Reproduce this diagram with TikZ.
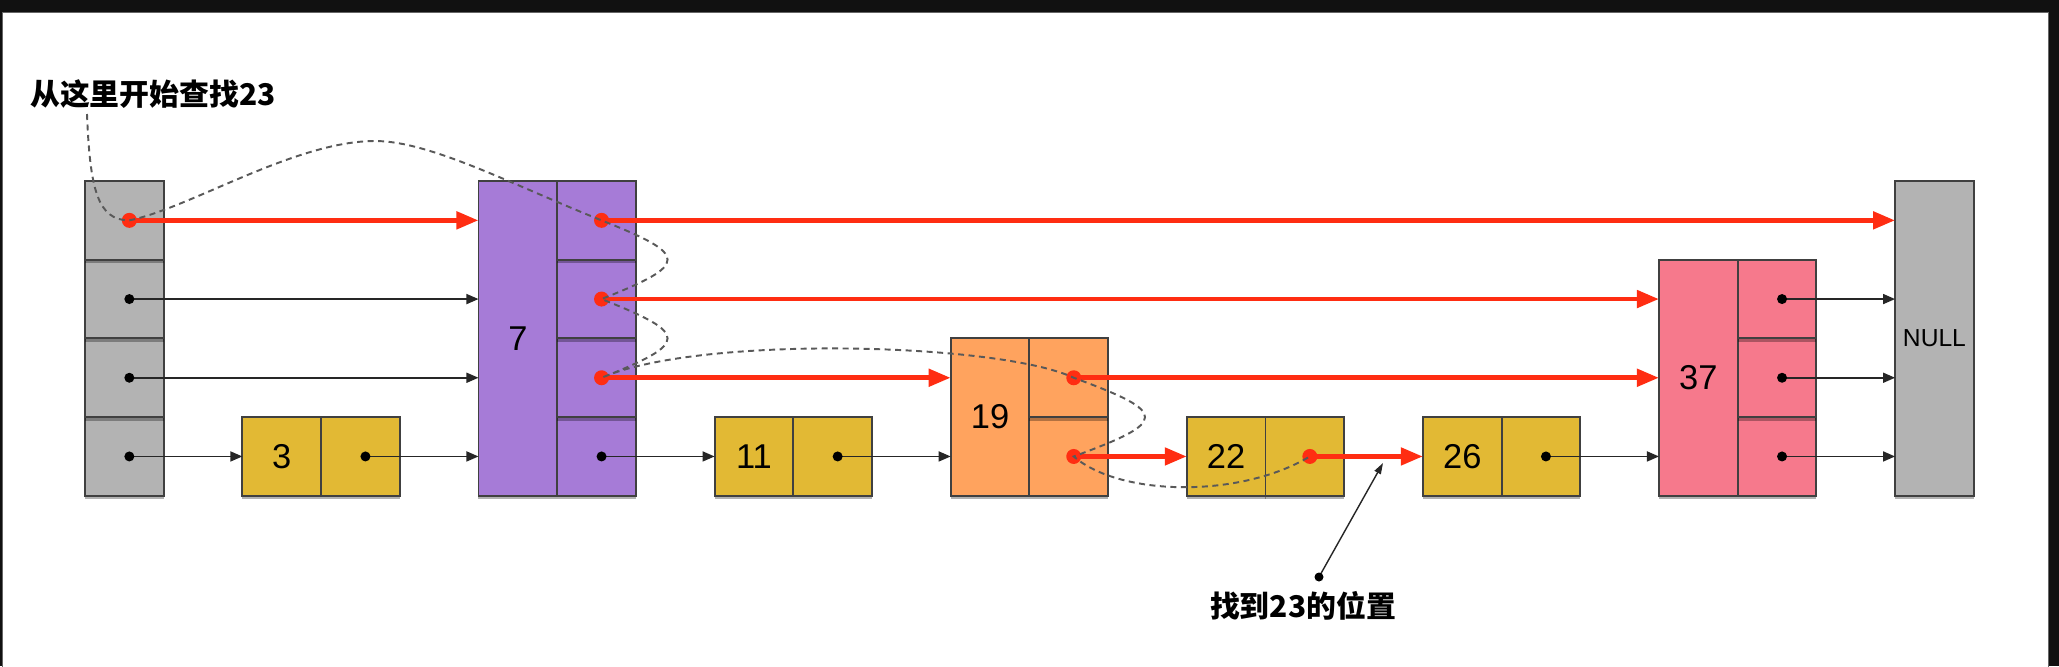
\documentclass[tikz,border=0pt]{standalone}
\usepackage{fontspec}
\setmainfont{Liberation Sans}
\newfontfamily\cjk{Noto Sans CJK SC}
\usetikzlibrary{arrows.meta,shadows}

\definecolor{headgray}{HTML}{B3B3B3}
\definecolor{nodeyellow}{HTML}{E2B934}
\definecolor{nodepurple}{HTML}{A67BD7}
\definecolor{nodeorange}{HTML}{FFA35E}
\definecolor{nodepink}{HTML}{F6798C}
\definecolor{searchred}{HTML}{FF2D12}
\definecolor{framebg}{HTML}{111111}

\tikzset{
  cell/.style={draw=black!75, line width=0.55pt, inner sep=0pt, outer sep=0pt,
    minimum width=0.787cm, minimum height=0.787cm,
    font=\fontsize{9.8}{11}\selectfont,
    drop shadow={shadow xshift=0pt, shadow yshift=-1pt, opacity=0.3, fill=black}},
  ptr/.style={black!85, line width=0.45pt, -{Triangle[length=0.12cm,width=0.1cm]}},
  ptrdot/.style={black, radius=0.05cm},
  hop/.style={searchred, line width=1.35pt, -{Triangle[length=0.22cm,width=0.17cm]}},
  hopdot/.style={searchred, radius=0.075cm},
  trace/.style={black!65, line width=0.55pt, dash pattern=on 0.06cm off 0.045cm},
  lbl/.style={inner sep=0pt, font=\cjk\bfseries\fontsize{8.5}{10}\selectfont},
}

\begin{document}
\begin{tikzpicture}[x=0.01cm, y=-0.01cm]
  \useasboundingbox (0,0) rectangle (2059,666);
  \fill[framebg] (0,0) rectangle (2059,666);
  \filldraw[fill=white, draw=black!60, line width=0.4pt] (2.5,12.5) rectangle (2048.5,700);

  %%%%%%%%%%%%%%%%%%%%%%%%%%%%%%%%%%%%%%%%%%%%%%%%%%%%%%%%%%%%%%%%%%%%%%%%%%%
  %%%%  head and NULL
  \foreach \l in {1,...,4}
  {\node[cell, fill=headgray] (head-\l) at (124.35,{535.15-78.7*\l}) {};
   \coordinate (dhead-\l) at ([xshift=0.05cm]head-\l.center);
  };
  \node[cell, fill=headgray, minimum height=3.148cm, font=\fontsize{7}{8}\selectfont]
    (valnull) at (1934.45,338.4) {NULL};

  %%%%%%%%%%%%%%%%%%%%%%%%%%%%%%%%%%%%%%%%%%%%%%%%%%%%%%%%%%%%%%%%%%%%%%%%%%%
  %%%%  list nodes: value / column / levels / colour
  \foreach \v/\k/\h/\c in {3/2/1/nodeyellow, 7/5/4/nodepurple, 11/8/1/nodeyellow,
      19/11/2/nodeorange, 22/14/1/nodeyellow, 26/17/1/nodeyellow, 37/20/3/nodepink}
  {\pgfmathsetmacro\xv{124.35+78.7*\k}
   \pgfmathsetmacro\xp{\xv+78.7}
   \pgfmathsetmacro\yv{535.15-39.35*(\h+1)}
   \node[cell, fill=\c, minimum height=\h*0.787cm] (val\v) at (\xv,\yv) {\v};
   \foreach \l in {1,...,\h}
    {\node[cell, fill=\c] (p\v-\l) at (\xp,{535.15-78.7*\l}) {};
     \coordinate (d\v-\l) at ([xshift=0.05cm]p\v-\l.center);
    };
  };

  %%%%%%%%%%%%%%%%%%%%%%%%%%%%%%%%%%%%%%%%%%%%%%%%%%%%%%%%%%%%%%%%%%%%%%%%%%%
  %%%%  forward pointers, red ones are the search path
  \foreach \a/\b/\l/\s in {head/7/4/hop, 7/null/4/hop,
      head/7/3/ptr, 7/37/3/hop, 37/null/3/ptr,
      head/7/2/ptr, 7/19/2/hop, 19/37/2/hop, 37/null/2/ptr,
      head/3/1/ptr, 3/7/1/ptr, 7/11/1/ptr, 11/19/1/ptr,
      19/22/1/hop, 22/26/1/hop, 26/37/1/ptr, 37/null/1/ptr}
  {\draw[\s] (d\a-\l) -- (d\a-\l -| val\b.west);
   \fill[\s dot] (d\a-\l) circle[];
  };

  %%%%%%%%%%%%%%%%%%%%%%%%%%%%%%%%%%%%%%%%%%%%%%%%%%%%%%%%%%%%%%%%%%%%%%%%%%%
  %%%%  labels
  \node[lbl] (startlbl) at (153,94) {从这里开始查找23};
  \node[lbl] (foundlbl) at (1303,606) {找到23的位置};
  \coordinate (tracestart) at (87,114);
  \coordinate (hump) at (375,141);
  \coordinate (foundtip) at (1383,463);
  \coordinate (founddot) at (1319,577);
  \draw[black!85, line width=0.4pt, -{Triangle[length=0.11cm,width=0.07cm]}]
    (founddot) -- (foundtip);
  \fill (founddot) circle (0.045cm);

  % search trace
  \draw[trace] (tracestart) .. controls +(3,75) and +(-32,0) .. (dhead-4)
    .. controls +(60,-12) and +(-80,0) .. (hump)
    .. controls +(55,0) and +(-90,-36) .. (d7-4)
    .. controls +(88,35) and +(88,-35) .. (d7-3)
    .. controls +(88,35) and +(88,-35) .. (d7-2)
    .. controls +(98,-43) and +(-74,-35) .. (d19-2)
    .. controls +(95,35) and +(95,-35) .. (d19-1)
    .. controls +(46,40) and +(-70,42) .. (d22-1);
\end{tikzpicture}
\end{document}
